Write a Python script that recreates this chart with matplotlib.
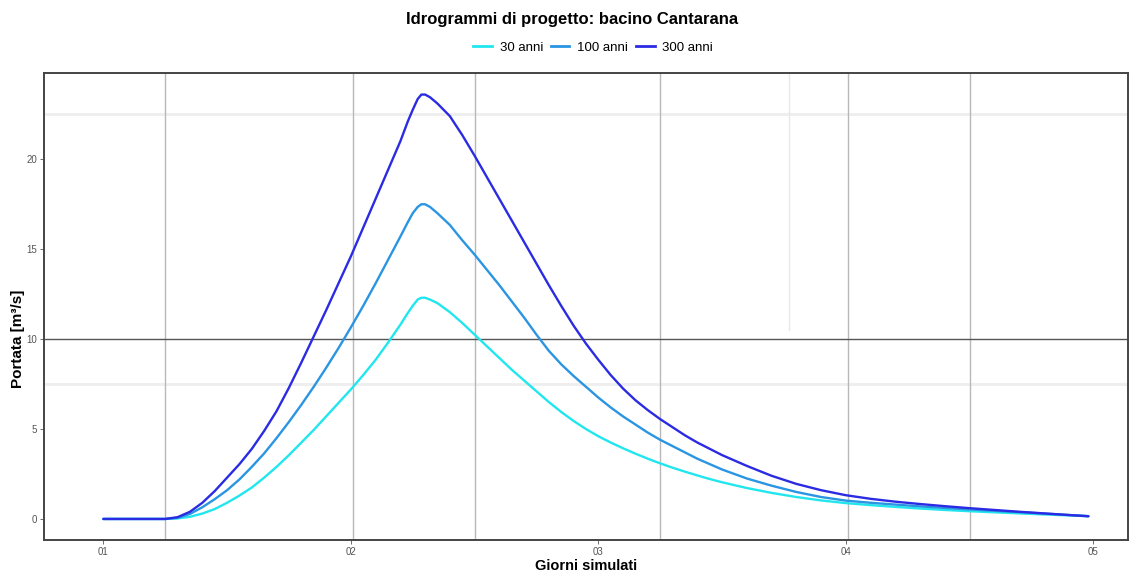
import matplotlib
matplotlib.use("Agg")
import matplotlib.pyplot as plt
from matplotlib.lines import Line2D

plt.rcParams['font.family'] = ['Liberation Sans', 'DejaVu Sans']

# Simulated time (days)
giorni = [1.00,
          1.25, 1.30, 1.35, 1.40, 1.45, 1.50, 1.55, 1.60, 1.65, 1.70,
          1.75, 1.80, 1.85, 1.90, 1.95, 2.00, 2.05, 2.10, 2.15, 2.20,
          2.23, 2.25, 2.27, 2.285, 2.30, 2.32, 2.35,
          2.40, 2.45, 2.50, 2.55, 2.60, 2.65, 2.70, 2.75, 2.80, 2.85,
          2.90, 2.95, 3.00, 3.05, 3.10, 3.15, 3.20, 3.25, 3.30, 3.35,
          3.40, 3.45, 3.50,
          3.60, 3.70, 3.80, 3.90, 4.00, 4.10, 4.20, 4.30, 4.40, 4.50,
          4.60, 4.70, 4.80, 4.90,
          4.98]

# Design discharge [m3/s] per return period
q_30 = [0.00,
        0.00, 0.03, 0.12, 0.30, 0.55, 0.90, 1.30, 1.75, 2.30, 2.90,
        3.55, 4.25, 4.95, 5.70, 6.45, 7.20, 8.00, 8.85, 9.80, 10.80,
        11.45, 11.85, 12.20, 12.30, 12.30, 12.20, 12.00,
        11.50, 10.90, 10.25, 9.60, 8.95, 8.30, 7.70, 7.10, 6.50, 5.95,
        5.45, 5.00, 4.60, 4.25, 3.93, 3.63, 3.35, 3.09, 2.85, 2.63,
        2.42, 2.22, 2.04,
        1.72, 1.45, 1.22, 1.03, 0.88, 0.77, 0.67, 0.58, 0.50, 0.43,
        0.37, 0.31, 0.25, 0.20,
        0.15]
q_100 = [0.00,
         0.00, 0.06, 0.28, 0.65, 1.10, 1.60, 2.20, 2.90, 3.65, 4.50,
         5.40, 6.35, 7.35, 8.40, 9.50, 10.65, 11.85, 13.10, 14.40, 15.70,
         16.50, 17.00, 17.35, 17.50, 17.50, 17.35, 17.00,
         16.35, 15.50, 14.70, 13.85, 13.00, 12.10, 11.20, 10.25, 9.35, 8.60,
         7.95, 7.35, 6.75, 6.20, 5.70, 5.25, 4.80, 4.40, 4.05, 3.70,
         3.35, 3.05, 2.75,
         2.25, 1.85, 1.50, 1.22, 1.02, 0.90, 0.80, 0.70, 0.61, 0.53,
         0.45, 0.38, 0.30, 0.22,
         0.16]
q_300 = [0.00,
         0.00, 0.10, 0.40, 0.90, 1.55, 2.30, 3.05, 3.90, 4.90, 6.00,
         7.30, 8.70, 10.15, 11.60, 13.10, 14.60, 16.20, 17.80, 19.40, 21.00,
         22.10, 22.75, 23.35, 23.60, 23.60, 23.45, 23.10,
         22.40, 21.35, 20.20, 19.00, 17.80, 16.60, 15.40, 14.20, 13.00, 11.85,
         10.75, 9.75, 8.85, 8.00, 7.25, 6.60, 6.05, 5.55, 5.10, 4.65,
         4.25, 3.90, 3.55,
         2.95, 2.40, 1.95, 1.60, 1.32, 1.12, 0.96, 0.83, 0.71, 0.60,
         0.50, 0.40, 0.31, 0.22,
         0.15]

serie = ["30 anni", "100 anni", "300 anni"]
colori = ["#22e6ee", "#2a95e2", "#2b2be3"]

x_ticks = [1, 2, 3, 4, 5]
x_ticklabels = ["01", "02", "03", "04", "05"]
y_ticks = [0, 5, 10, 15, 20]

fig = plt.figure(figsize=(11.30, 5.71), dpi=100)
ax = fig.add_axes([0.0389, 0.0543, 0.9593, 0.8179])

# background grid
for xv in [1.25, 2.01, 2.50, 3.25, 4.01, 4.50]:
    ax.axvline(xv, color="#b8b8b8", lw=1.0, zorder=1)
ax.axvline(3.77, ymin=0.45, ymax=1.0, color="#e8e8e8", lw=1.0, zorder=1)
ax.axhline(10, color="#555555", lw=1.0, zorder=1)
for yv in [7.5, 22.5]:
    ax.axhline(yv, color="#eeeeee", lw=2.0, zorder=0.5)

for q, c in zip([q_30, q_100, q_300], colori):
    ax.plot(giorni, q, color=c, lw=1.7, zorder=3,
            solid_capstyle="round", solid_joinstyle="round")

ax.set_xlim(0.76, 5.14)
ax.set_ylim(-1.17, 24.8)
ax.set_xticks(x_ticks)
ax.set_xticklabels(x_ticklabels)
ax.set_yticks(y_ticks)
ax.tick_params(axis="both", labelsize=7, colors="#555555", length=3, width=0.6, pad=2)
for s in ax.spines.values():
    s.set_color("#444444")
    s.set_linewidth(1.4)

ax.set_xlabel("Giorni simulati", fontsize=10.5, fontweight="bold", va="center")
ax.xaxis.set_label_coords(0.50, -0.055)
ax.set_ylabel("Portata [m³/s]", fontsize=11, fontweight="bold", va="center")
ax.yaxis.set_label_coords(-0.024, 0.43)

fig.text(0.506, 0.965, "Idrogrammi di progetto: bacino Cantarana",
         ha="center", va="center", fontsize=12, fontweight="bold")

handles = [Line2D([], [], color=c, lw=2) for c in colori]
fig.legend(handles, serie, loc="center", bbox_to_anchor=(0.525, 0.917), ncol=3,
           frameon=False, fontsize=9.5, handlelength=1.4, handletextpad=0.6,
           columnspacing=0.6)

fig.savefig("out.png", dpi=100)
